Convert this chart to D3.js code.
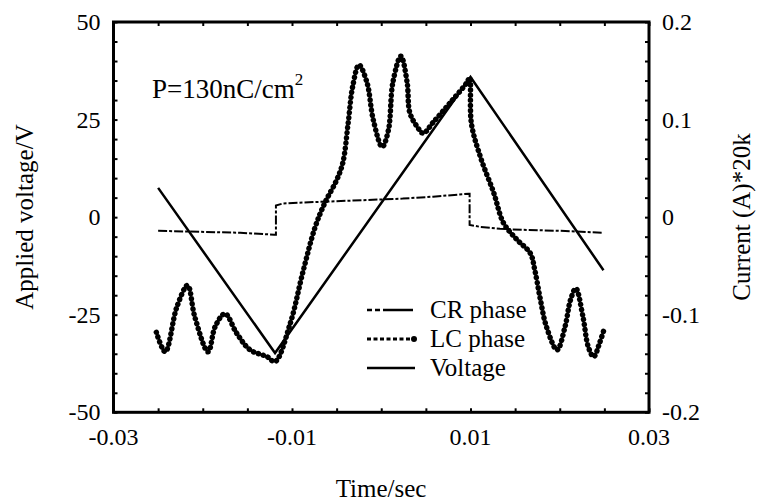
<!DOCTYPE html>
<html>
<head>
<meta charset="utf-8">
<script src="https://cdn.jsdelivr.net/npm/d3@7"></script>
</head>
<body style="margin:0">
<script>
const width = 764;
const height = 502;
const plotLeft = 113.5;
const plotRight = 649;
const plotTop = 22;
const plotBottom = 412.3;

// Voltage (left axis, V)
const voltageTime = [-0.025, -0.0119, 0.0100, 0.0249];
const voltageValues = [7.5, -34.8, 35.9, -13.6];

// CR phase current (right axis, A*20k)
const crTime = [-0.0250, -0.0203, -0.0158, -0.0120, -0.0118, -0.0118, -0.0110, -0.0088,
  -0.0032, 0.0024, 0.0058, 0.0098, 0.0099, 0.0099, 0.0111, 0.0133, 0.0159, 0.0200, 0.0247];
const crValues = [-0.014, -0.015, -0.016, -0.018, -0.018, 0.012, 0.014, 0.015,
  0.017, 0.019, 0.021, 0.024, 0.024, -0.008, -0.010, -0.012, -0.013, -0.014, -0.016];

// LC phase current (right axis, A*20k)
const lcTime = [-0.0252, -0.0242, -0.0229, -0.0217, -0.0209, -0.0194, -0.0186, -0.0175,
  -0.0162, -0.0147, -0.0128, -0.0119, -0.0102, -0.0088, -0.0074, -0.0063, -0.0050, -0.0043,
  -0.0037, -0.0032, -0.0025, -0.0016, -0.0009, 0.0001, 0.0008, 0.0013, 0.0022, 0.0029,
  0.0032, 0.0040, 0.0047, 0.0058, 0.0077, 0.0096, 0.0099, 0.0101, 0.0111, 0.0126,
  0.0137, 0.0152, 0.0167, 0.0172, 0.0178, 0.0185, 0.0197, 0.0206, 0.0212, 0.0218,
  0.0226, 0.0232, 0.0238, 0.0245, 0.0249];
const lcValues = [-0.118, -0.138, -0.092, -0.070, -0.102, -0.138, -0.112, -0.099,
  -0.119, -0.136, -0.143, -0.148, -0.109, -0.057, -0.010, 0.015, 0.038, 0.056,
  0.097, 0.134, 0.156, 0.138, 0.100, 0.072, 0.089, 0.138, 0.165, 0.138,
  0.107, 0.093, 0.086, 0.097, 0.117, 0.138, 0.143, 0.096, 0.062, 0.025,
  -0.006, -0.023, -0.037, -0.054, -0.083, -0.112, -0.136, -0.112, -0.085, -0.073,
  -0.102, -0.133, -0.143, -0.128, -0.117];

const xTicks = [-0.03, -0.01, 0.01, 0.03];
const leftTicks = [-50, -25, 0, 25, 50];
const rightTicks = [-0.2, -0.1, 0, 0.1, 0.2];

const svg = d3.select('body').append('svg')
  .attr('width', width)
  .attr('height', height)
  .attr('font-family', 'Liberation Serif');

const xScale = d3.scaleLinear().domain([-0.03, 0.03]).range([plotLeft, plotRight]);
const yLeft = d3.scaleLinear().domain([-50, 50]).range([plotBottom, plotTop]);
const yRight = d3.scaleLinear().domain([-0.2, 0.2]).range([plotBottom, plotTop]);

// minor ticks (inside)
const tickStyle = (g) => {
  g.select('.domain').remove();
  g.selectAll('line').attr('stroke', '#000').attr('stroke-width', 2);
};
svg.append('g').attr('transform', `translate(0,${plotBottom})`)
  .call(d3.axisBottom(xScale).tickValues(d3.range(-0.03, 0.0301, 0.005)).tickSize(-4).tickFormat(''))
  .call(tickStyle);
svg.append('g').attr('transform', `translate(0,${plotTop})`)
  .call(d3.axisTop(xScale).tickValues(d3.range(-0.03, 0.0301, 0.005)).tickSize(-4).tickFormat(''))
  .call(tickStyle);
svg.append('g').attr('transform', `translate(${plotLeft},0)`)
  .call(d3.axisLeft(yLeft).tickValues(d3.range(-50, 51, 5)).tickSize(-4).tickFormat(''))
  .call(tickStyle);
svg.append('g').attr('transform', `translate(${plotRight},0)`)
  .call(d3.axisRight(yRight).tickValues(d3.range(-0.2, 0.201, 0.02)).tickSize(-4).tickFormat(''))
  .call(tickStyle);

// tick labels, written by hand so the font is not the axis default
const xLabels = svg.append('g');
xLabels.selectAll('text').data(xTicks).join('text')
  .attr('x', (d) => xScale(d))
  .attr('y', plotBottom + 33)
  .attr('text-anchor', 'middle')
  .text((d) => d3.format('.2f')(d).replace('\u2212', '-'));
const leftLabels = svg.append('g');
leftLabels.selectAll('text').data(leftTicks).join('text')
  .attr('x', plotLeft - 13)
  .attr('y', (d) => yLeft(d) + 8)
  .attr('text-anchor', 'end')
  .text((d) => String(d));
const rightLabels = svg.append('g');
rightLabels.selectAll('text').data(rightTicks).join('text')
  .attr('x', plotRight + 13)
  .attr('y', (d) => yRight(d) + 8)
  .text((d) => String(d));
svg.selectAll('g text').attr('font-size', 24);

// frame
svg.append('rect')
  .attr('x', plotLeft).attr('y', plotTop)
  .attr('width', plotRight - plotLeft).attr('height', plotBottom - plotTop)
  .attr('fill', 'none').attr('stroke', '#000').attr('stroke-width', 3);

// voltage
const voltageLine = d3.line()
  .x((d, i) => xScale(voltageTime[i]))
  .y((d) => yLeft(d));
svg.append('path').datum(voltageValues)
  .attr('d', voltageLine)
  .attr('fill', 'none').attr('stroke', '#000').attr('stroke-width', 2.5);

// CR phase
const crLine = d3.line()
  .x((d, i) => xScale(crTime[i]))
  .y((d) => yRight(d));
svg.append('path').datum(crValues)
  .attr('d', crLine)
  .attr('fill', 'none').attr('stroke', '#000').attr('stroke-width', 2)
  .attr('stroke-dasharray', '9,2,3,2');

// LC phase
const lcLine = d3.line()
  .curve(d3.curveCatmullRom)
  .x((d, i) => xScale(lcTime[i]))
  .y((d) => yRight(d));
svg.append('path').datum(lcValues)
  .attr('d', lcLine)
  .attr('fill', 'none').attr('stroke', '#000').attr('stroke-width', 5.5)
  .attr('stroke-linecap', 'round')
  .attr('stroke-dasharray', '0.1,5');

// annotation
const note = svg.append('text').attr('x', 152).attr('y', 98).attr('font-size', 27);
note.append('tspan').text('P=130nC/cm');
note.append('tspan').attr('font-size', 17).attr('dy', -13).text('2');

// legend
const legendItems = ['CR phase', 'LC phase', 'Voltage'];
const legend = svg.append('g');
legendItems.forEach((name, i) => {
  const y = 310 + i * 29;
  const line = legend.append('line')
    .attr('x1', 367).attr('x2', 415).attr('y1', y).attr('y2', y)
    .attr('stroke', '#000');
  if (i === 0) line.attr('stroke-width', 2.5).attr('stroke-dasharray', '5,3,5,3,30');
  if (i === 1) {
    line.attr('stroke-width', 3).attr('stroke-dasharray', '4,2.5');
    legend.append('circle').attr('cx', 414).attr('cy', y).attr('r', 3).attr('fill', '#000');
  }
  if (i === 2) line.attr('stroke-width', 2.5);
  legend.append('text').attr('x', 430).attr('y', y + 8).attr('font-size', 25).text(name);
});

// axis titles
svg.append('text')
  .attr('x', 381).attr('y', 497)
  .attr('text-anchor', 'middle').attr('font-size', 25)
  .text('Time/sec');
svg.append('text')
  .attr('transform', `translate(33,217) rotate(-90)`)
  .attr('text-anchor', 'middle').attr('font-size', 25)
  .text('Applied voltage/V');
svg.append('text')
  .attr('transform', `translate(750,217) rotate(-90)`)
  .attr('text-anchor', 'middle').attr('font-size', 25)
  .text('Current (A)*20k');

svg.selectAll('text').style('font-family', "'Liberation Serif'").attr('fill', '#000');
</script>
</body>
</html>
